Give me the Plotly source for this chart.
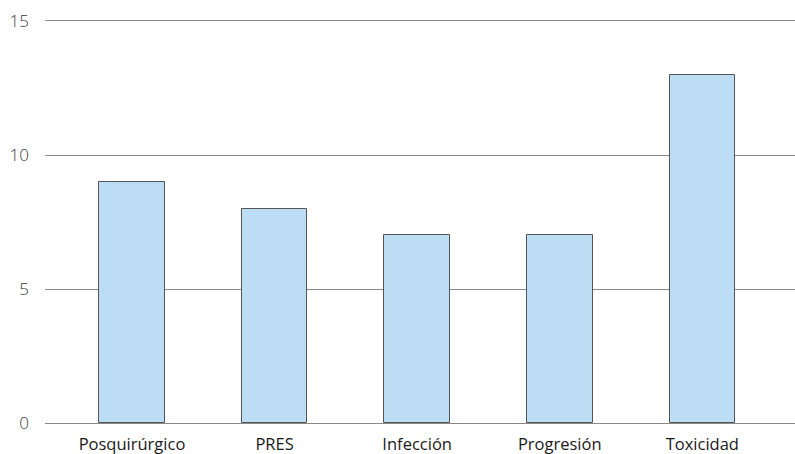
import plotly.graph_objects as go

categories = ["Posquirúrgico", "PRES", "Infección", "Progresión", "Toxicidad"]
values = [9, 8, 7, 7, 13]
y_ticks = [0, 5, 10, 15]

positions = list(range(len(categories)))

fig = go.Figure(
    go.Bar(
        x=positions,
        y=values,
        width=0.46,
        marker=dict(color="#BDDDF5", line=dict(color="#555555", width=1)),
        hoverinfo="x+y",
    )
)

fig.update_layout(
    width=795,
    height=454,
    margin=dict(l=45, r=0, t=21, b=31),
    paper_bgcolor="white",
    plot_bgcolor="white",
    font=dict(family="Open Sans", size=14, color="#333333"),
    showlegend=False,
    bargap=0,
)

# bottom and top frame lines stand in for the 0 and 15 gridlines
fig.update_xaxes(
    range=[-0.61, 4.65],
    tickmode="array",
    tickvals=positions,
    ticktext=categories,
    showgrid=False,
    zeroline=False,
    showline=True,
    mirror=True,
    linecolor="#8a8a8a",
    linewidth=1,
    ticks="",
    automargin=False,
    ticklabelstandoff=6,
    tickfont=dict(size=16.5, color="#1a1a1a"),
)

fig.update_yaxes(
    range=[0, 15],
    tickmode="array",
    tickvals=y_ticks,
    showgrid=True,
    gridcolor="#8a8a8a",
    gridwidth=1,
    zeroline=False,
    showline=False,
    ticks="",
    automargin=False,
    ticklabelstandoff=15,
    tickfont=dict(size=17, color="#3a3a3a", weight=300),
)

fig.write_html("out.html")
